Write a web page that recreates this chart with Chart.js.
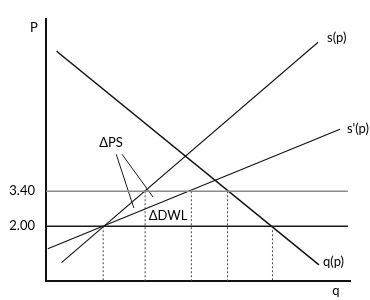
<!DOCTYPE html>
<html>
<head>
<meta charset="utf-8">
<script src="https://cdn.jsdelivr.net/npm/chart.js@4.4.1/dist/chart.umd.min.js"></script>
<style>
  html, body { margin: 0; padding: 0; background: #fff; }
  #wrap { width: 370px; height: 300px; position: relative; }
</style>
</head>
<body>
<div id="wrap"><canvas id="chart"></canvas></div>
<script>
// demand q(p)
const demandQ = [3.5, 89.8];
const demandP = [9.0, 0.45];
// supply s(p)
const supplyQ = [5.1, 89.5];
const supplyP = [0.54, 9.36];
// shifted supply s'(p)
const supply2Q = [0.6, 96.7];
const supply2P = [1.10, 5.88];

// price levels (horizontal lines) and their tick labels
const priceLevels = [3.40, 2.00];
const priceTickLabels = ['3.40', '2.00'];
const priceLineQ = [0, 99.3];

// dotted drop lines down to the q axis
const dropQ = [18.8, 32.6, 47.8, 59.7, 74.5];
const dropFromP = [2.00, 3.40, 3.40, 3.40, 2.00];

// pointer lines from the ΔPS label
const psPointerQ = [[23.1, 28.9], [25.0, 35.2]];
const psPointerP = [[4.88, 2.73], [4.88, 3.17]];

const Q_MIN = 0, Q_MAX = 100, P_MIN = -0.2, P_MAX = 10.3;

function pts(qs, ps) {
    return qs.map((q, i) => ({ x: q, y: ps[i] }));
}

function lineSet(data, color, width, dash) {
    return {
        data: data,
        showLine: true,
        borderColor: color,
        borderWidth: width,
        borderDash: dash || [],
        pointRadius: 0,
        fill: false
    };
}

const datasets = [];
datasets.push(lineSet(pts(priceLineQ, [priceLevels[0], priceLevels[0]]), '#8a8a8a', 1.6));
datasets.push(lineSet(pts(priceLineQ, [priceLevels[1], priceLevels[1]]), '#1a1a1a', 1.6));
dropQ.forEach((q, i) => {
    datasets.push(lineSet(pts([q, q], [dropFromP[i], P_MIN]), '#444', 1, [2, 2]));
});
psPointerQ.forEach((qs, i) => {
    datasets.push(lineSet(pts(qs, psPointerP[i]), '#1a1a1a', 1));
});
const demandSet = lineSet(pts(demandQ, demandP), '#111', 1.5);
const supplySet = lineSet(pts(supplyQ, supplyP), '#111', 1.1);
const supply2Set = lineSet(pts(supply2Q, supply2P), '#111', 1.1);
datasets.push(demandSet, supplySet, supply2Set);

const textPlugin = {
    id: 'curveLabels',
    afterDraw(chart) {
        const ctx = chart.ctx;
        const xs = chart.scales.x, ys = chart.scales.y;
        const area = chart.chartArea;
        const px = q => xs.getPixelForValue(q);
        const py = p => ys.getPixelForValue(p);
        ctx.save();
        ctx.fillStyle = '#000';
        ctx.font = '13px Lato';
        ctx.textBaseline = 'middle';
        ctx.textAlign = 'left';
        const last = a => a[a.length - 1];
        ctx.fillText('s(p)', px(last(supplyQ)) + 9, py(last(supplyP)) - 4);
        ctx.fillText("s'(p)", px(last(supply2Q)) + 7, py(last(supply2P)));
        ctx.fillText('q(p)', px(last(demandQ)) + 4, py(last(demandP)) - 3);
        ctx.fillText('\u0394PS', px(psPointerQ[0][0]) - 17, py(psPointerP[0][0]) - 11);
        ctx.fillText('\u0394DWL', px(33.8), py(2.41));
        ctx.textAlign = 'center';
        ctx.fillText('P', area.left - 12, area.top + 9);
        ctx.fillText('q', area.right - 14, area.bottom + 10);
        ctx.restore();
    }
};

new Chart(document.getElementById('chart'), {
    type: 'scatter',
    data: { datasets: datasets },
    options: {
        responsive: true,
        maintainAspectRatio: false,
        animation: false,
        layout: { padding: { top: 7, right: 20, left: 0, bottom: 0 } },
        plugins: {
            legend: { display: false },
            tooltip: { enabled: false }
        },
        scales: {
            x: {
                type: 'linear',
                min: Q_MIN,
                max: Q_MAX,
                grid: { display: false, drawTicks: false },
                border: { display: true, color: '#111', width: 2 },
                ticks: { display: false },
                afterFit(scale) { scale.height = 17.5; }
            },
            y: {
                type: 'linear',
                min: P_MIN,
                max: P_MAX,
                grid: { display: false, drawTicks: false },
                border: { display: true, color: '#111', width: 2 },
                afterBuildTicks(scale) {
                    scale.ticks = priceLevels.map(v => ({ value: v }));
                },
                ticks: {
                    padding: 11,
                    color: '#000',
                    font: { family: 'Lato', size: 13 },
                    callback: function (value) {
                        const i = priceLevels.indexOf(value);
                        return i >= 0 ? priceTickLabels[i] : '';
                    }
                },
                afterFit(scale) { scale.width = 46; }
            }
        }
    },
    plugins: [textPlugin]
});
</script>
</body>
</html>
